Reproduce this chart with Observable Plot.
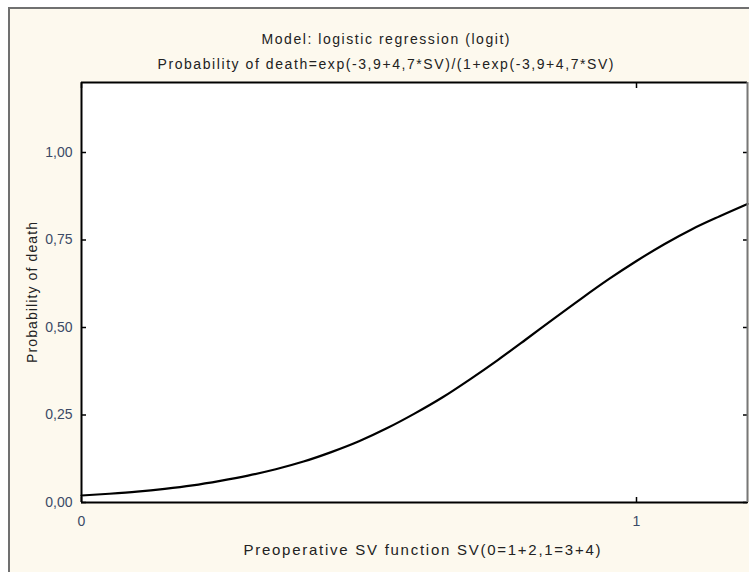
<!DOCTYPE html>
<html>
<head>
<meta charset="utf-8">
<script src="https://cdn.jsdelivr.net/npm/d3@7"></script>
<script src="https://cdn.jsdelivr.net/npm/@observablehq/plot@0.6"></script>
<style>
  html, body { margin: 0; padding: 0; background: #ffffff; }
  #wrap { position: relative; width: 749px; height: 572px; overflow: hidden; font-family: "Liberation Sans", Arial, sans-serif; }
  #panel { position: absolute; left: 8px; top: 7px; width: 800px; height: 620px; border: 2px solid #707070; background: #fdf9ee; }
  #chart { position: absolute; left: 0; top: 0; }
</style>
</head>
<body>
<div id="wrap">
  <div id="panel"></div>
  <div id="chart"></div>
</div>
<script>
const titleText = "Model: logistic regression (logit)";
const subtitleText = "Probability of death=exp(-3,9+4,7*SV)/(1+exp(-3,9+4,7*SV)";
const xLabel = "Preoperative SV function SV(0=1+2,1=3+4)";
const yLabel = "Probability of death";

// Curve values
const svValues = [0, 0.05, 0.1, 0.15, 0.2, 0.25, 0.3, 0.35, 0.4, 0.45, 0.5, 0.55, 0.6, 0.65, 0.7, 0.75, 0.8, 0.85, 0.9, 0.95, 1.0, 1.05, 1.1, 1.15, 1.2];
const probValues = [0.020, 0.025, 0.031, 0.039, 0.049, 0.062, 0.077, 0.095, 0.117, 0.144, 0.175, 0.212, 0.254, 0.300, 0.352, 0.407, 0.465, 0.524, 0.582, 0.638, 0.690, 0.738, 0.781, 0.818, 0.853];

const xTicks = [0, 1];
const yTicks = [0, 0.25, 0.5, 0.75, 1.0];

const curve = svValues.map((x, i) => ({x, y: probValues[i]}));

const fmtY = d => d.toFixed(2).replace(".", ",");

const chart = Plot.plot({
  width: 749,
  height: 572,
  marginLeft: 81,
  marginRight: 2,
  marginTop: 82,
  marginBottom: 70,
  style: { background: "transparent", fontFamily: "Liberation Sans, Arial, sans-serif", fontSize: "14px", overflow: "visible" },
  x: { domain: [0, 1.2] },
  y: { domain: [0, 1.2] },
  marks: [
    Plot.frame({ fill: "white" }),
    Plot.line(curve, { x: "x", y: "y", stroke: "black", strokeWidth: 2.2, curve: "monotone-x" }),
    Plot.axisY(yTicks, { anchor: "left", tickSize: -5, tickPadding: 14, tickFormat: fmtY, label: null, color: "#3b4a66", stroke: "black", strokeWidth: 1.5, fontSize: 14 }),
    Plot.axisY(yTicks, { anchor: "right", tickSize: -5, text: null, label: null, stroke: "black", strokeWidth: 1.5 }),
    Plot.axisX(xTicks, { anchor: "bottom", tickSize: -5, tickPadding: 19, tickFormat: d => String(d), label: null, color: "#3b4a66", stroke: "black", strokeWidth: 1.5, fontSize: 14 }),
    Plot.axisX(xTicks, { anchor: "top", tickSize: -5, text: null, label: null, stroke: "black", strokeWidth: 1.5 }),
    Plot.ruleY([0], { stroke: "black", strokeWidth: 2 }),
    Plot.ruleX([0], { stroke: "black", strokeWidth: 2 }),
    Plot.ruleY([1.2], { stroke: "black", strokeWidth: 2 }),
    Plot.ruleX([1.2], { stroke: "#777", strokeWidth: 2 }),
    Plot.text([titleText], { frameAnchor: "top", dx: -29, dy: -48, fontSize: 14, fill: "#222", textAnchor: "middle", className: "t-title" }),
    Plot.text([subtitleText], { frameAnchor: "top", dx: -29, dy: -23, fontSize: 14, fill: "#222", textAnchor: "middle", className: "t-sub" }),
    Plot.text([xLabel], { frameAnchor: "bottom-left", dx: 162, dy: 52, fontSize: 15, fill: "#222", textAnchor: "start", className: "t-x" }),
    Plot.text([yLabel], { frameAnchor: "left", dx: -49, rotate: -90, fontSize: 14, fill: "#222", textAnchor: "middle", className: "t-y" })
  ]
});
document.getElementById("chart").appendChild(chart);

// stretch the text runs to the reference widths
const widths = { "t-title": 248, "t-sub": 456, "t-x": 357, "t-y": 141 };
for (const [cls, w] of Object.entries(widths)) {
  chart.querySelectorAll("." + cls + " text").forEach(t => {
    t.setAttribute("textLength", w);
    t.setAttribute("lengthAdjust", "spacing");
  });
}
</script>
</body>
</html>
